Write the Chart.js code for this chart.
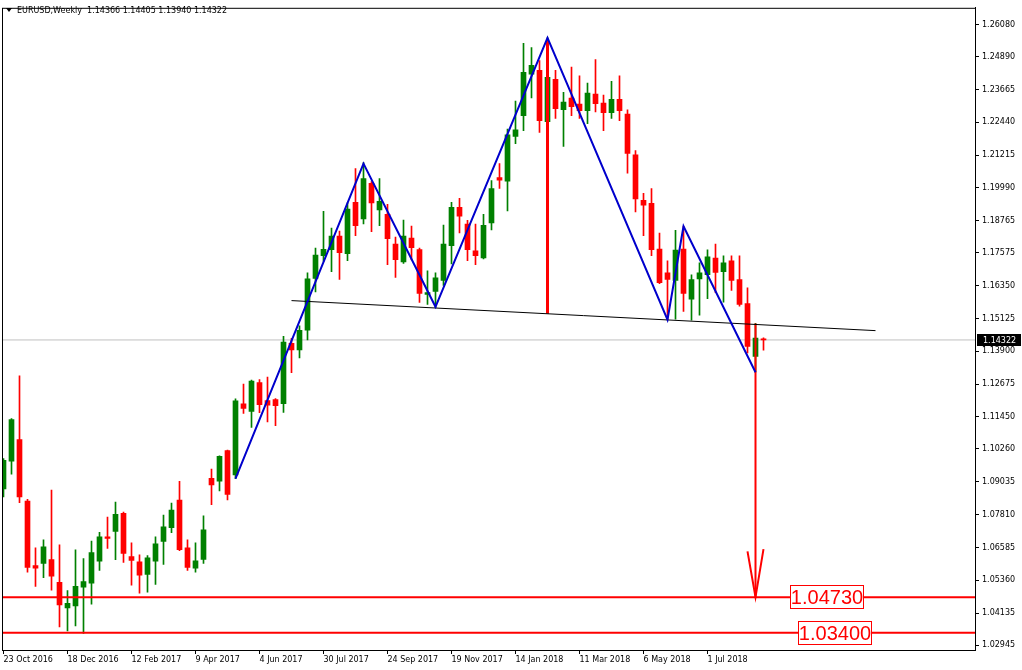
<!DOCTYPE html>
<html>
<head>
<meta charset="utf-8">
<script src="https://cdn.jsdelivr.net/npm/chart.js@4.4.1/dist/chart.umd.min.js"></script>
<style>
  html, body { margin: 0; padding: 0; background: #fff; }
  canvas { display: block; }
</style>
</head>
<body>
<canvas id="chart" width="1022" height="670"></canvas>
<script>
// weekly EURUSD candles, 23 Oct 2016 .. 19 Aug 2018
const opens = [1.0877,1.0980,1.1061,1.0831,1.0591,1.0599,1.0613,1.0528,1.0433,1.0440,1.0510,1.0525,1.0607,1.0698,1.0718,1.0786,
  1.0624,1.0605,1.0558,1.0607,1.0681,1.0732,1.0835,1.0657,1.0581,1.0614,1.0916,1.0906,1.1020,1.0929,1.1194,1.1166,
  1.1273,1.1206,1.1210,1.1195,1.1420,1.1395,1.1469,1.1662,1.1747,1.1769,1.1820,1.1754,1.1945,1.1884,1.2016,1.1917,
  1.1901,1.1790,1.1723,1.1812,1.1769,1.1602,1.1613,1.1654,1.1784,1.1927,1.1864,1.1765,1.1738,1.1869,1.2038,1.2024,
  1.2191,1.2269,1.2423,1.2438,1.2246,1.2404,1.2291,1.2334,1.2312,1.2287,1.2349,1.2316,1.2280,1.2330,1.2275,1.2123,
  1.1953,1.1942,1.1771,1.1683,1.1654,1.1771,1.1584,1.1660,1.1676,1.1738,1.1687,1.1727,1.1657,1.1568,1.1371,1.14366];
const highs = [1.0990,1.1139,1.1298,1.0838,1.0657,1.0687,1.0872,1.0668,1.0498,1.0650,1.0617,1.0682,1.0715,1.0772,1.0828,1.0790,
  1.0676,1.0631,1.0628,1.0698,1.0779,1.0824,1.0905,1.0687,1.0676,1.0776,1.0951,1.1000,1.1022,1.1213,1.1268,1.1283,
  1.1284,1.1294,1.1214,1.1446,1.1438,1.1485,1.1683,1.1775,1.1912,1.1849,1.1838,1.1944,1.2071,1.2094,1.2023,1.2034,
  1.1938,1.1816,1.1879,1.1857,1.1775,1.1690,1.1683,1.1861,1.1945,1.1960,1.1878,1.1864,1.1901,1.2027,1.2090,1.2219,
  1.2323,1.2538,1.2523,1.2474,1.2559,1.2438,1.2356,1.2450,1.2417,1.2390,1.2478,1.2345,1.2397,1.2417,1.2290,1.2138,
  1.1979,1.1997,1.1831,1.1727,1.1841,1.1856,1.1675,1.1720,1.1768,1.1790,1.1746,1.1746,1.1746,1.1627,1.1494,1.14405];
const lows = [1.0847,1.0932,1.0825,1.0566,1.0513,1.0546,1.0499,1.0362,1.0347,1.0366,1.0338,1.0447,1.0573,1.0655,1.0613,1.0603,
  1.0518,1.0488,1.0492,1.0521,1.0595,1.0714,1.0646,1.0573,1.0566,1.0599,1.0818,1.0869,1.0836,1.0915,1.1158,1.1106,
  1.1161,1.1127,1.1113,1.1162,1.1310,1.1365,1.1432,1.1611,1.1726,1.1687,1.1658,1.1728,1.1821,1.1865,1.1836,1.1858,
  1.1713,1.1665,1.1718,1.1731,1.1572,1.1565,1.1553,1.1636,1.1716,1.1831,1.1728,1.1713,1.1734,1.1843,1.1997,1.1913,
  1.2164,1.2213,1.2335,1.2206,1.2235,1.2258,1.2154,1.2269,1.2258,1.2239,1.2283,1.2213,1.2258,1.2250,1.2054,1.1910,
  1.1821,1.1747,1.1642,1.1508,1.1510,1.1539,1.1506,1.1525,1.1586,1.1609,1.1573,1.1617,1.1558,1.1384,1.1312,1.13940];
const closes = [1.0983,1.1135,1.0847,1.0584,1.0581,1.0661,1.0551,1.0444,1.0450,1.0513,1.0531,1.0639,1.0698,1.0692,1.0782,1.0636,
  1.0610,1.0555,1.0620,1.0672,1.0735,1.0798,1.0650,1.0584,1.0609,1.0724,1.0892,1.0998,1.0856,1.1205,1.1177,1.1279,
  1.1191,1.1189,1.1187,1.1424,1.1395,1.1468,1.1660,1.1749,1.1770,1.1820,1.1758,1.1920,1.1858,1.2034,1.1943,1.1949,
  1.1810,1.1732,1.1820,1.1776,1.1606,1.1609,1.1664,1.1790,1.1927,1.1894,1.1769,1.1747,1.1860,1.1997,1.2028,1.2197,
  1.2216,1.2430,1.2456,1.2250,1.2412,1.2295,1.2319,1.2302,1.2287,1.2353,1.2313,1.2280,1.2330,1.2287,1.2128,1.1958,
  1.1935,1.1769,1.1646,1.1658,1.1767,1.1606,1.1657,1.1683,1.1742,1.1684,1.1720,1.1654,1.1565,1.1408,1.1439,1.14322];

const dateLabels = ['23 Oct 2016','18 Dec 2016','12 Feb 2017','9 Apr 2017','4 Jun 2017','30 Jul 2017',
  '24 Sep 2017','19 Nov 2017','14 Jan 2018','11 Mar 2018','6 May 2018','1 Jul 2018'];
const priceTicks = [1.26080,1.24890,1.23665,1.22440,1.21215,1.19990,1.18765,1.17575,1.16350,1.15125,
  1.13900,1.12675,1.11450,1.10260,1.09035,1.07810,1.06585,1.05360,1.04135,1.02945];

// analysis objects (week index, price)
const zigzagWeeks = [29, 45, 54, 68, 83, 85, 94];
const zigzagPrices = [1.0915, 1.2090, 1.1556, 1.2559, 1.1508, 1.1856, 1.1312];
const necklineWeeks = [36, 109];
const necklinePrices = [1.1579, 1.1467];
const headWeek = 68, headTop = 1.2555, headNeck = 1.1530;
const arrowWeek = 94, arrowTop = 1.1494;
const arrowHeadWeeks = [93, 94, 95];
const arrowHeadPrices = [1.0644, 1.0473, 1.0652];
const targetLevels = [1.04730, 1.03400];
const lastPrice = 1.14322;
const header = 'EURUSD,Weekly  1.14366 1.14405 1.13940 1.14322';

const X_MIN = -0.1875, X_MAX = 121.4375;
const UP = '#008000', DOWN = '#ff0000';

const candleColors = opens.map((o, i) => closes[i] >= o ? UP : DOWN);
const wickData = opens.map((o, i) => ({ x: i, y: [lows[i], highs[i]] }));
const bodyData = opens.map((o, i) => ({ x: i, y: [Math.min(o, closes[i]), Math.max(o, closes[i])] }));
const pts = (xs, ys) => xs.map((x, i) => ({ x: x, y: ys[i] }));
const hline = (p) => [{ x: X_MIN, y: p }, { x: X_MAX, y: p }];

const annotations = {
  id: 'annotations',
  beforeDraw(chart) {
    const { ctx } = chart;
    ctx.save();
    ctx.fillStyle = '#fff';
    ctx.fillRect(0, 0, chart.width, chart.height);
    ctx.restore();
  },
  afterDraw(chart) {
    const { ctx, chartArea: a, scales: { y } } = chart;
    ctx.save();
    // frame
    ctx.strokeStyle = '#000';
    ctx.lineWidth = 1;
    ctx.strokeRect(a.left + 0.5, a.top + 0.5, a.right - a.left, a.bottom - a.top);
    // header
    ctx.fillStyle = '#000';
    ctx.beginPath();
    ctx.moveTo(6, 8); ctx.lineTo(12, 8); ctx.lineTo(9, 12); ctx.closePath(); ctx.fill();
    ctx.font = '8px "DejaVu Sans"';
    ctx.textBaseline = 'middle';
    ctx.textAlign = 'left';
    ctx.fillText(header, 17, 10.5);
    // last price box on the axis
    const py = Math.round(y.getPixelForValue(lastPrice));
    ctx.fillStyle = '#000';
    ctx.fillRect(a.right + 2, py - 6, 44, 12);
    ctx.fillStyle = '#fff';
    ctx.fillText(lastPrice.toFixed(5), a.right + 8, py + 0.5);
    // boxed target labels
    const boxX = [790, 798];
    targetLevels.forEach((lv, k) => {
      const ty = Math.round(y.getPixelForValue(lv));
      ctx.fillStyle = '#fff';
      ctx.fillRect(boxX[k], ty - 12, 73, 24);
      ctx.strokeStyle = '#ff0000';
      ctx.lineWidth = 1;
      ctx.strokeRect(boxX[k] + 0.5, ty - 11.5, 73, 23);
      ctx.fillStyle = '#ff0000';
      ctx.font = '20px "Liberation Sans"';
      ctx.textAlign = 'center';
      ctx.fillText(lv.toFixed(5), boxX[k] + 37, ty + 1);
    });
    ctx.restore();
  }
};

new Chart(document.getElementById('chart'), {
  type: 'bar',
  data: {
    datasets: [
      { type: 'line', data: pts(zigzagWeeks, zigzagPrices), borderColor: '#0000cc', borderWidth: 2, pointRadius: 0, order: 0 },
      { type: 'line', data: pts(necklineWeeks, necklinePrices), borderColor: '#000', borderWidth: 1, pointRadius: 0, order: 0 },
      { type: 'line', data: [{ x: headWeek, y: headTop }, { x: headWeek, y: headNeck }], borderColor: '#ff0000', borderWidth: 3, pointRadius: 0, order: 0 },
      { type: 'line', data: [{ x: arrowWeek, y: arrowTop }, { x: arrowWeek, y: targetLevels[0] }], borderColor: '#ff0000', borderWidth: 2, pointRadius: 0, order: 0 },
      { type: 'line', data: pts(arrowHeadWeeks, arrowHeadPrices), borderColor: '#ff0000', borderWidth: 2, pointRadius: 0, order: 0 },
      { type: 'line', data: hline(targetLevels[0]), borderColor: '#ff0000', borderWidth: 2, pointRadius: 0, order: 0 },
      { type: 'line', data: hline(targetLevels[1]), borderColor: '#ff0000', borderWidth: 2, pointRadius: 0, order: 0 },
      { data: bodyData, backgroundColor: candleColors, barThickness: 5, grouped: false, order: 1 },
      { data: wickData, backgroundColor: candleColors, barThickness: 1, grouped: false, order: 2 },
      { type: 'line', data: hline(lastPrice), borderColor: '#c0c0c0', borderWidth: 1, pointRadius: 0, order: 3 }
    ]
  },
  options: {
    responsive: false,
    animation: false,
    devicePixelRatio: 1,
    layout: { padding: { left: 2, top: 3, right: 0, bottom: 0 } },
    plugins: { legend: { display: false }, tooltip: { enabled: false } },
    scales: {
      x: {
        type: 'linear',
        offset: false,
        min: X_MIN,
        max: X_MAX,
        afterBuildTicks: (s) => { s.ticks = dateLabels.map((d, i) => ({ value: i * 8 })); },
        afterFit: (s) => { s.height = 20; },
        ticks: {
          autoSkip: false,
          maxRotation: 0,
          align: 'start',
          padding: 1,
          color: '#000',
          font: { family: 'DejaVu Sans', size: 8 },
          callback: (v) => dateLabels[Math.round(v / 8)]
        },
        grid: { offset: false, drawOnChartArea: false, drawTicks: true, tickLength: 4, color: '#000' },
        border: { display: true, color: '#000' }
      },
      y: {
        position: 'right',
        min: 1.02760,
        max: 1.26709,
        afterBuildTicks: (s) => { s.ticks = priceTicks.map(v => ({ value: v })); },
        afterFit: (s) => { s.width = 47; },
        ticks: {
          autoSkip: false,
          padding: 3,
          color: '#000',
          font: { family: 'DejaVu Sans', size: 8 },
          callback: (v) => v.toFixed(5)
        },
        grid: { drawOnChartArea: false, drawTicks: true, tickLength: 4, color: '#000' },
        border: { display: true, color: '#000' }
      }
    }
  },
  plugins: [annotations]
});
</script>
</body>
</html>
